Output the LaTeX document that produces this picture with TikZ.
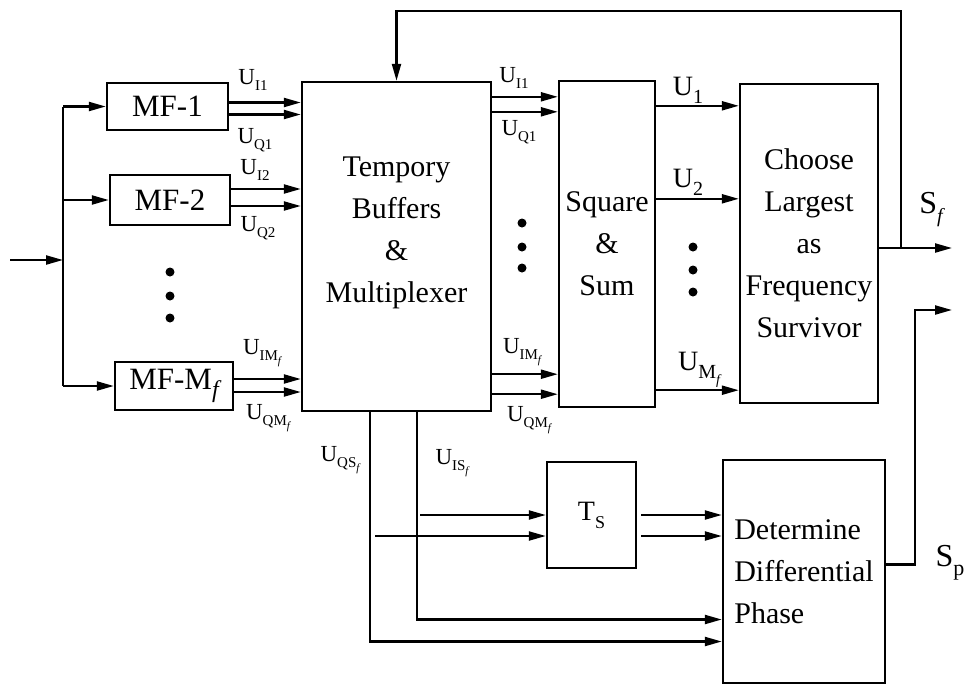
\documentclass[tikz,border=0pt]{standalone}
\usepackage{fontspec}
\setmainfont{Liberation Serif}
\usetikzlibrary{arrows.meta}
\newcommand{\lo}[2][15]{\raisebox{-0.28em}{\fontsize{#1}{#1}\selectfont #2}}

\begin{document}
\begin{tikzpicture}[
    x=1pt, y=-1pt, line width=2.2pt,
    font=\fontsize{30}{42}\selectfont,
    blk/.style={draw, line width=2.4pt, align=center, inner sep=0pt},
    arr/.style={-{Triangle[length=17pt,width=9pt]}},
    lab/.style={font=\fontsize{23}{25}\selectfont, inner sep=0pt},
    biglab/.style={font=\fontsize{28}{30}\selectfont, inner sep=0pt}
  ]
    \useasboundingbox (0,0) rectangle (974,686);
    % blocks
    \node[blk, minimum width=121pt, minimum height=47pt, font=\fontsize{31}{34}\selectfont] (mf1) at (167.5,106.5) {MF-1};
    \node[blk, minimum width=120pt, minimum height=50pt, font=\fontsize{31}{34}\selectfont] (mf2) at (170,200) {MF-2};
    \node[blk, minimum width=118pt, minimum height=48pt, font=\fontsize{31}{34}\selectfont] (mfm) at (174,386) {MF-M\lo[24]{\itshape f}};
    \node[blk, minimum width=189pt, minimum height=329pt] (buf) at (396.5,246.5) {};
    \node[align=center] (buftxt) at ([yshift=14pt]buf.center) {Tempory\\Buffers\\\&\\Multiplexer};
    \node[blk, minimum width=96pt, minimum height=326pt] (sq) at (607,244) {Square\\\&\\Sum};
    \node[blk, minimum width=138pt, minimum height=319pt] (ch) at (809,243.5) {Choose\\Largest\\as\\Frequency\\Survivor};
    \node[blk, minimum width=89pt, minimum height=106pt, font=\fontsize{28}{30}\selectfont] (ts) at (591.5,515) {T\lo[18]{S}};
    \node[blk, minimum width=162pt, minimum height=223pt, align=left] (dp) at (804,571.5) {Determine\\Differential\\Phase};

    % input and bus
    \coordinate (in) at (10,260);
    \coordinate (bus) at (63,260);
    \draw[arr] (in) -- (bus);
    \draw (bus |- mf1.west) -- (bus |- mfm.west);
    \foreach \m in {mf1,mf2,mfm} \draw[arr] (bus |- \m.west) -- (\m.west);

    % matched filter outputs
    \foreach \m/\a/\b in {mf1/4/-8, mf2/11/-6, mfm/7/-6} {
      \coordinate (oa) at ([yshift=\a pt]\m.east);
      \coordinate (ob) at ([yshift=\b pt]\m.east);
      \draw[arr] (oa) -- (oa -| buf.west);
      \draw[arr] (ob) -- (ob -| buf.west);
    }

    % buffer to square & sum
    \foreach \c/\d in {north east/-16, north east/-31, south east/38, south east/18} {
      \coordinate (bo) at ([yshift=\d pt]buf.\c);
      \draw[arr] (bo) -- (bo -| sq.west);
    }

    % square & sum to choose largest
    \foreach \c/\d in {north east/-26, north east/-119, south east/18} {
      \coordinate (so) at ([yshift=\d pt]sq.\c);
      \draw[arr] (so) -- (so -| ch.west);
    }

    % frequency output and feedback
    \coordinate (sfout) at (952,248);
    \coordinate (fb) at (901,248);
    \coordinate (top) at ([yshift=70pt]buf.north);
    \draw[arr] (ch.east |- sfout) -- (sfout);
    \draw[arr] (fb) |- (top) -- (buf.north);

    % phase path
    \coordinate (qs) at (370,411);
    \coordinate (is) at (417,411);
    \coordinate (tsl) at ([yshift=-21pt]ts.west);
    \draw[arr] ([xshift=3pt]is |- ts.west) -- (ts.west);
    \draw[arr] ([xshift=5pt]qs |- tsl) -- (tsl);
    \draw[arr] ([xshift=4pt]ts.east) -- (ts.east -| dp.west);
    \draw[arr] ([xshift=4pt]tsl -| ts.east) -- (tsl -| dp.west);
    \draw[arr] (is) |- ([yshift=-48pt]dp.west);
    \draw[arr] (qs) |- ([yshift=-70pt]dp.west);

    \coordinate (spout) at (952,310);
    \coordinate (spk) at (915,310);
    \draw[arr] ([yshift=7pt]dp.east) -| (spk) -- (spout);

    % dots
    \foreach \x/\y in {170/272,170/296,170/318,522/223,522/247,522/268,693/247,693/270,693/292}
      \fill (\x,\y) circle (4.5pt);

    % labels
    \node[lab] (li1) at (253,80) {U\lo{I1}};
    \node[lab] (lq1) at (255,140) {U\lo{Q1}};
    \node[lab] (li2) at (255,170) {U\lo{I2}};
    \node[lab] (lq2) at (258,228) {U\lo{Q2}};
    \node[lab] (lim) at (262,353) {U\lo{IM\lo[11]{\itshape f}}};
    \node[lab] (lqm) at (268,418) {U\lo{QM\lo[11]{\itshape f}}};
    \node[lab] (bi1) at (514,78) {U\lo{I1}};
    \node[lab] (bq1) at (519,132) {U\lo{Q1}};
    \node[lab] (bim) at (522,352) {U\lo{IM\lo[11]{\itshape f}}};
    \node[lab] (bqm) at (529,420) {U\lo{QM\lo[11]{\itshape f}}};
    \node[lab] (lqs) at (340,460) {U\lo{QS\lo[11]{\itshape f}}};
    \node[lab] (lis) at (452,463) {U\lo{IS\lo[11]{\itshape f}}};
    \node[biglab] (u1) at (688,90) {U\lo[20]{1}};
    \node[biglab] (u2) at (688,182) {U\lo[20]{2}};
    \node[biglab] (um) at (699,370) {U\lo[20]{M\lo[14]{\itshape f}}};
    \node[biglab, font=\fontsize{32}{34}\selectfont] (sf) at (931,210) {S\lo[20]{\itshape f}};
    \node[biglab, font=\fontsize{32}{34}\selectfont] (sp) at (950,563) {S\lo[22]{p}};
\end{tikzpicture}
\end{document}
